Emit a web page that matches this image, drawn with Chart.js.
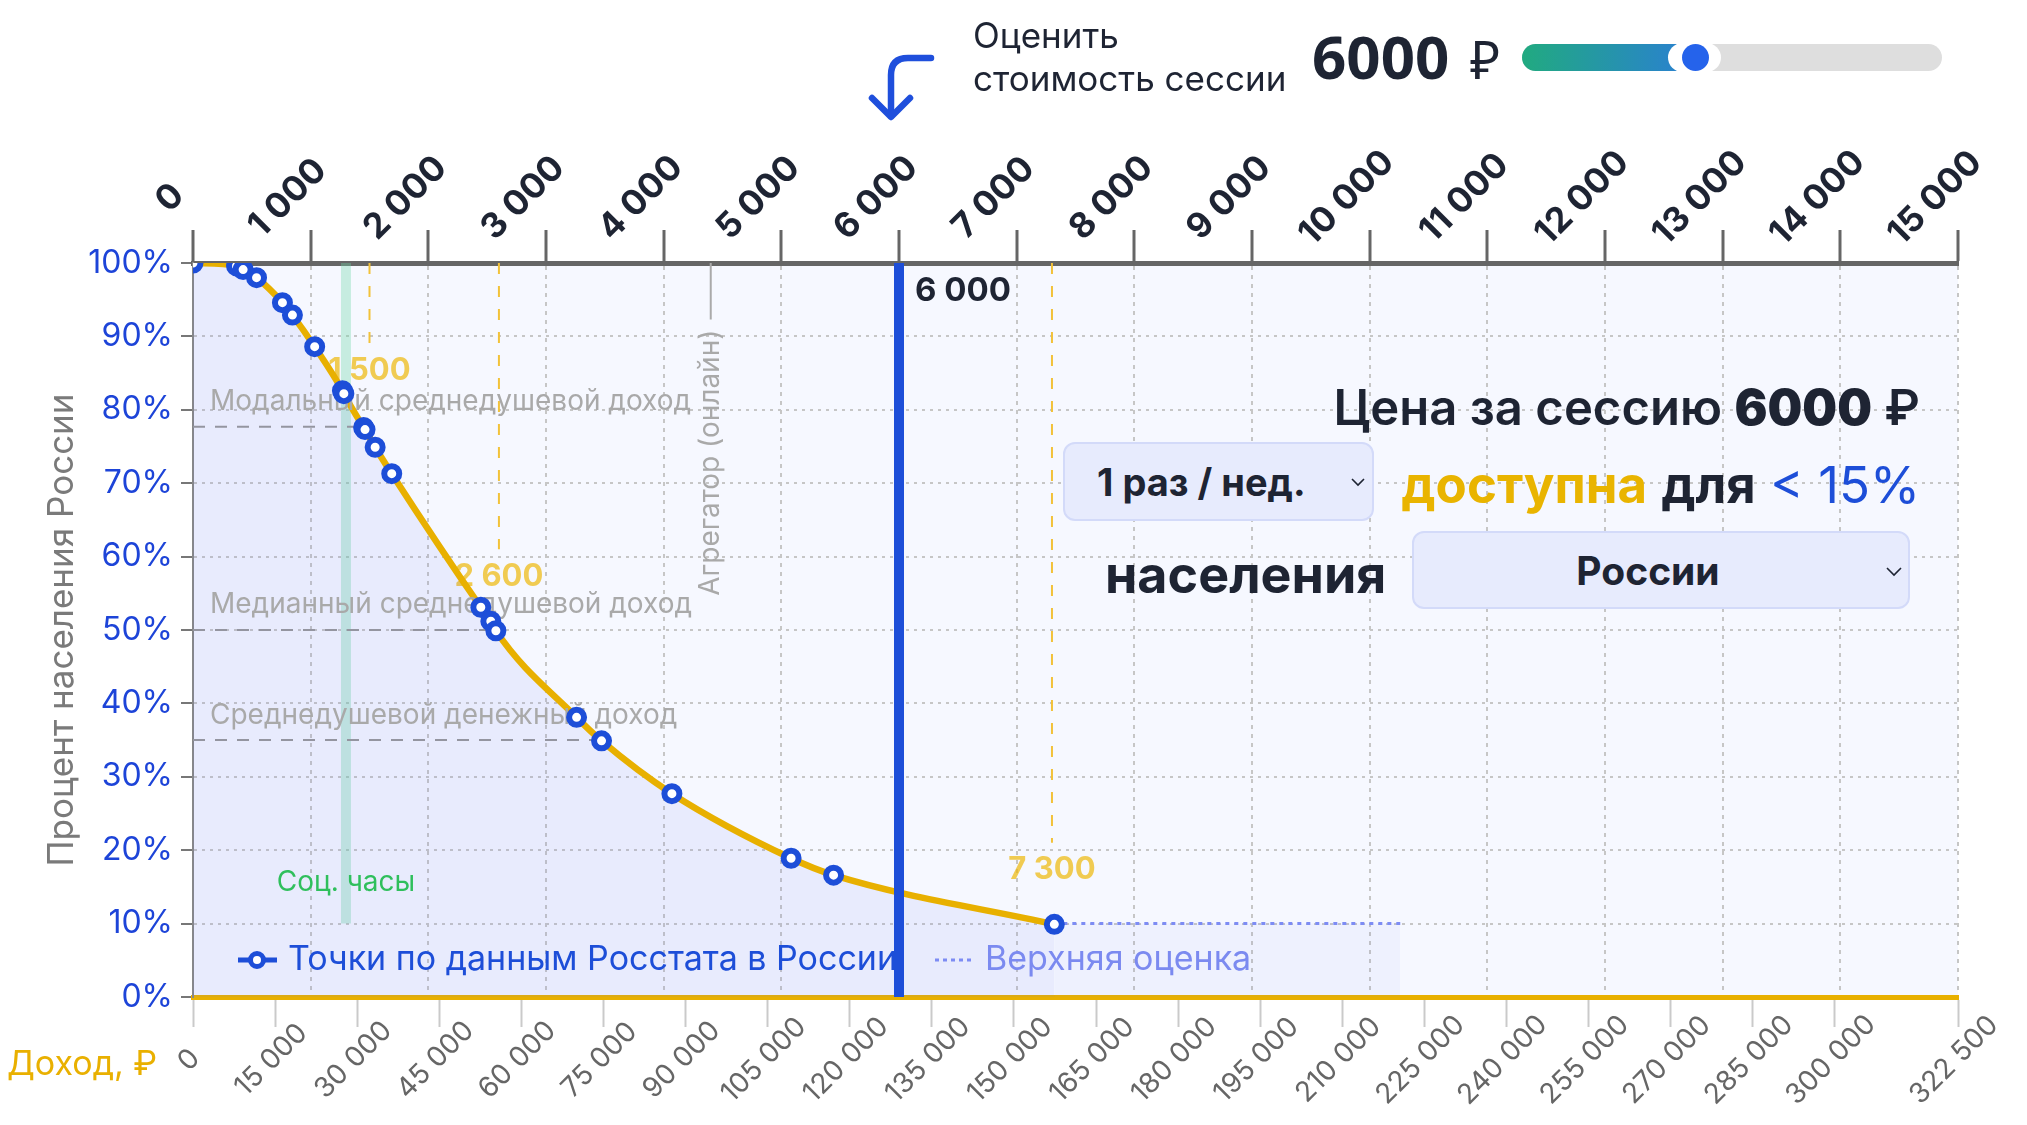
<!DOCTYPE html>
<html lang="ru">
<head>
<meta charset="utf-8">
<title>Доступность сессии</title>
<script src="https://cdn.jsdelivr.net/npm/chart.js@4.4.1/dist/chart.umd.min.js"></script>
<style>
    body { margin: 0; background: #fff; font-family: Inter, "Noto Sans", sans-serif; color: #1e2433; }
    #wrap { position: relative; width: 2027px; height: 1125px; overflow: hidden; }
    #chart { position: absolute; left: 0; top: 0; }
    .abs { position: absolute; white-space: nowrap; line-height: 1; }
    .box { position: absolute; box-sizing: border-box; background: #e7ebfd; border: 2px solid #d3daf9;
           border-radius: 12px; display: flex; align-items: center; font-weight: 700; }
    .box svg { position: absolute; }
</style>
</head>
<body>
<div id="wrap">
    <canvas id="chart" width="2027" height="1125"></canvas>

    <!-- header: arrow, caption, price, slider -->
    <svg class="abs" style="left:0;top:0" width="1000" height="140">
        <path d="M931 58 H908 Q891 58 891 75 V116" fill="none" stroke="#1f4fdc" stroke-width="6.5" stroke-linecap="round"/>
        <path d="M872 98 L891 117 L910 98" fill="none" stroke="#1f4fdc" stroke-width="6.5" stroke-linecap="round" stroke-linejoin="round"/>
    </svg>
    <div class="abs" style="left:973px;top:14px;font-size:35px;line-height:43px">Оценить<br>стоимость сессии</div>
    <div class="abs" style="left:1312px;top:26px;font-size:60px;font-weight:700;font-family:'Noto Sans',sans-serif">6000</div>
    <div class="abs" style="left:1470px;top:33px;font-size:52px;font-family:'Noto Sans',sans-serif">₽</div>
    <div class="abs" style="left:1522px;top:44px;width:420px;height:27px;border-radius:14px;background:#dedede"></div>
    <div class="abs" style="left:1522px;top:44px;width:170px;height:27px;border-radius:14px 0 0 14px;background:linear-gradient(90deg,#21aa80,#2a80d2)"></div>
    <div class="abs" style="left:1668px;top:43px;width:53px;height:29px;border-radius:15px;background:#fff"></div>
    <div class="abs" style="left:1682px;top:44px;width:27px;height:27px;border-radius:50%;background:#2563eb"></div>

    <!-- right panel -->
    <div class="abs" style="right:107px;top:383px;font-size:49px;font-weight:600">Цена за сессию <b>6000</b> ₽</div>
    <div class="box" style="left:1063px;top:442px;width:311px;height:79px;padding-left:32px;font-size:38px">1 раз / нед.
        <svg style="left:286px;top:34px" width="14" height="9"><path d="M1 1 L7 7 L13 1" fill="none" stroke="#1e2433" stroke-width="1.6"/></svg>
    </div>
    <div class="abs" style="right:107px;top:459px;font-size:51px"><b style="color:#e9b400">доступна</b> <b>для</b> <span style="color:#1d4ed8">&lt; 15%</span></div>
    <div class="abs" style="left:1105px;top:549px;font-size:52px;font-weight:700">населения</div>
    <div class="box" style="left:1412px;top:531px;width:498px;height:78px;justify-content:center;padding-right:26px;font-size:39px">России
        <svg style="left:472px;top:34px" width="16" height="10"><path d="M1 1 L8 8 L15 1" fill="none" stroke="#1e2433" stroke-width="1.6"/></svg>
    </div>

    <div class="abs" style="left:7px;top:1046px;font-size:34px;color:#e9b000">Доход, ₽</div>
</div>

<script>
// top axis: price of one session, bottom axis: monthly income per person
const priceTicks = [0, 1000, 2000, 3000, 4000, 5000, 6000, 7000, 8000, 9000, 10000, 11000, 12000, 13000, 14000, 15000];
const incomeTicks = [0, 15000, 30000, 45000, 60000, 75000, 90000, 105000, 120000, 135000, 150000, 165000, 180000,
    195000, 210000, 225000, 240000, 255000, 270000, 285000, 300000, 322500];
const shareTicks = [0, 10, 20, 30, 40, 50, 60, 70, 80, 90, 100];

// Rosstat points (session price, % of population)
const rosstatPrice = [0, 370, 426, 540, 760, 845, 1034, 1270, 1282, 1450, 1462, 1548, 1689,
    2446, 2531, 2574, 3260, 3472, 4070, 5083, 5444, 7320];
const rosstatShare = [100, 99.6, 99.1, 98.0, 94.6, 92.9, 88.6, 82.6, 82.2, 77.6, 77.3, 74.9, 71.3,
    53.1, 51.2, 49.9, 38.1, 34.9, 27.7, 18.9, 16.6, 9.9];

// upper estimate tail
const upperPrice = [7320, 10260];
const upperShare = [10, 10];

// reference incomes
const incomeLevels = ['Модальный среднедушевой доход', 'Медианный среднедушевой доход', 'Среднедушевой денежный доход'];
const incomeLevelShare = [77.7, 50, 35];
const incomeLevelPrice = [1461, 2574, 3480];

// price thresholds (yellow)
const thresholdPrice = [1500, 2600, 7300];
const thresholdShare = [89, 61, 21];

const socialPrice = 1300;
const socialShare = [10, 100];
const aggregatorPrice = 4400;
const aggregatorShare = [92.3, 100];
const sessionPrice = 6000;

const navy = '#1e2433';
const blue = '#1d4ed8';
const gold = '#e8b000';

function fmt(v) {
    return String(v).replace(/\B(?=(\d{3})+(?!\d))/g, ' ');
}

function pts(xs, ys) {
    return xs.map((x, i) => ({ x: x, y: ys[i] }));
}

function vline(x, ys) {
    return ys.map(y => ({ x: x, y: y }));
}

// force the box size and put rotated tick labels centred at a point next to the tick
function axisFit(prop, size, dx, dy) {
    return function (scale) {
        scale[prop] = size;
        scale.paddingLeft = scale.paddingRight = scale.paddingTop = scale.paddingBottom = 0;
        if (dy === undefined) return;
        const base = Object.getPrototypeOf(scale)._computeLabelItems;
        if (!base) return;
        scale._computeLabelItems = function (area) {
            const items = base.call(this, area);
            const edge = this.position === 'top' ? this.bottom : this.top;
            items.forEach(item => {
                item.options.translation = [item.options.translation[0] + dx, edge + dy];
                item.options.textAlign = 'center';
                item.options.textBaseline = 'middle';
                item.textOffset = 0;
            });
            return items;
        };
    };
}

const datasets = [];

incomeLevels.forEach((name, i) => {
    datasets.push({
        id: 'level', data: pts([0, incomeLevelPrice[i]], [incomeLevelShare[i], incomeLevelShare[i]]),
        borderColor: '#999', borderWidth: 2, borderDash: [12, 10], order: 6
    });
});
thresholdPrice.forEach((p, i) => {
    datasets.push({
        id: 'threshold', data: vline(p, [100, thresholdShare[i]]),
        borderColor: '#f2c23a', borderWidth: 2, borderDash: [11, 12], order: 6
    });
});
datasets.push({
    id: 'social', data: vline(socialPrice, socialShare),
    borderColor: 'rgba(110, 215, 165, 0.35)', borderWidth: 10, borderCapStyle: 'butt', order: 6
});
datasets.push({
    id: 'aggregator', data: vline(aggregatorPrice, aggregatorShare),
    borderColor: '#aaa', borderWidth: 2, order: 6
});
datasets.push({
    id: 'curve', data: pts(rosstatPrice, rosstatShare),
    borderColor: gold, borderWidth: 6.5, cubicInterpolationMode: 'monotone',
    fill: 'origin', backgroundColor: 'rgba(100, 115, 235, 0.09)', order: 5
});
datasets.push({
    id: 'upper', label: 'Верхняя оценка', data: pts(upperPrice, upperShare),
    borderColor: '#7d8cf4', borderWidth: 3, borderDash: [4, 5],
    fill: 'origin', backgroundColor: 'rgba(100, 115, 235, 0.05)', order: 5
});
datasets.push({
    id: 'points', label: 'Точки по данным Росстата в России', data: pts(rosstatPrice, rosstatShare),
    showLine: false, pointRadius: 7.5, pointBorderWidth: 6,
    pointBorderColor: blue, pointBackgroundColor: '#fff', order: 2
});
datasets.push({
    id: 'session', data: vline(sessionPrice, [0, 100]),
    borderColor: blue, borderWidth: 10, borderCapStyle: 'butt', order: 1
});
datasets.forEach(d => {
    d.xAxisID = 'x2';
    d.yAxisID = 'y';
    if (d.pointRadius === undefined) d.pointRadius = 0;
});

function text(ctx, str, x, y, font, color, align) {
    ctx.font = font;
    ctx.fillStyle = color;
    ctx.textAlign = align || 'left';
    ctx.textBaseline = 'middle';
    ctx.fillText(str, x, y);
}

const notes = {
    id: 'notes',
    beforeDraw(chart) {
        const a = chart.chartArea;
        const ctx = chart.ctx;
        ctx.save();
        ctx.fillStyle = '#f6f8ff';
        ctx.fillRect(a.left, a.top, a.right - a.left, a.bottom - a.top);
        ctx.restore();
    },
    beforeDatasetsDraw(chart) {
        const ctx = chart.ctx, px = chart.scales.x2, py = chart.scales.y;
        ctx.save();
        thresholdPrice.forEach((p, i) => {
            text(ctx, fmt(p), px.getPixelForValue(p), py.getPixelForValue(thresholdShare[i]) + 27,
                'bold 31px Inter', 'rgba(238, 182, 0, 0.68)', 'center');
        });
        ctx.restore();
    },
    beforeDatasetDraw(chart, args) {
        const ctx = chart.ctx, px = chart.scales.x2, py = chart.scales.y;
        const id = chart.data.datasets[args.index].id;
        ctx.save();
        if (id === 'points') {
            incomeLevels.forEach((name, i) => {
                text(ctx, name, px.getPixelForValue(0) + 17, py.getPixelForValue(incomeLevelShare[i]) - 25,
                    '28px Inter', '#a9a9a9');
            });
            text(ctx, 'Соц. часы', px.getPixelForValue(socialPrice), py.getPixelForValue(15.6),
                '28px Inter', '#2fbf5c', 'center');
            ctx.translate(px.getPixelForValue(aggregatorPrice), py.getPixelForValue(72.8));
            ctx.rotate(-Math.PI / 2);
            text(ctx, 'Агрегатор (онлайн)', 0, 0, '28px Inter', '#a9a9a9', 'center');
        }
        if (id === 'session') {
            // legend inside the plot
            const y = py.getPixelForValue(0) - 37;
            const pointsSet = chart.data.datasets.find(d => d.id === 'points');
            const upperSet = chart.data.datasets.find(d => d.id === 'upper');
            ctx.strokeStyle = blue;
            ctx.lineWidth = 5;
            ctx.beginPath();
            ctx.moveTo(238, y);
            ctx.lineTo(277, y);
            ctx.stroke();
            ctx.beginPath();
            ctx.arc(257, y, 6.5, 0, Math.PI * 2);
            ctx.fillStyle = '#fff';
            ctx.fill();
            ctx.stroke();
            text(ctx, pointsSet.label, 288, y, '34px Inter', blue);
            ctx.strokeStyle = upperSet.borderColor;
            ctx.lineWidth = 3;
            ctx.setLineDash([4, 4]);
            ctx.beginPath();
            ctx.moveTo(935, y);
            ctx.lineTo(973, y);
            ctx.stroke();
            ctx.setLineDash([]);
            text(ctx, upperSet.label, 985, y, '34px Inter', '#7b8af0');
            text(ctx, fmt(sessionPrice), px.getPixelForValue(sessionPrice) + 16, py.getPixelForValue(96.2),
                'bold 33px Inter', navy);
        }
        ctx.restore();
    }
};

Chart.defaults.font.family = 'Inter, "Noto Sans", sans-serif';

new Chart(document.getElementById('chart'), {
    type: 'line',
    data: { datasets: datasets },
    plugins: [notes],
    options: {
        responsive: false,
        devicePixelRatio: 1,
        animation: false,
        events: [],
        layout: { padding: { right: 69 } },
        plugins: {
            legend: { display: false },
            tooltip: { enabled: false }
        },
        scales: {
            x: {
                type: 'linear',
                position: 'bottom',
                min: 0,
                max: 322500,
                afterBuildTicks: s => { s.ticks = incomeTicks.map(v => ({ value: v })); },
                afterFit: axisFit('height', 128, 8, 63),
                grid: { drawOnChartArea: false, tickLength: 30, tickColor: '#cacaca', tickWidth: 2 },
                border: { color: gold, width: 5 },
                ticks: {
                    autoSkip: false, minRotation: 45, maxRotation: 45,
                    color: '#666', font: { size: 28 },
                    callback: v => fmt(v)
                }
            },
            x2: {
                type: 'linear',
                position: 'top',
                min: 0,
                max: 15000,
                afterBuildTicks: s => { s.ticks = priceTicks.map(v => ({ value: v })); },
                afterFit: axisFit('height', 263, -8, -65),
                grid: { color: '#c6c6c6', lineWidth: 2, tickLength: 33, tickColor: '#666', tickWidth: 3 },
                border: { color: '#666', width: 5, dash: [4, 5] },
                ticks: {
                    autoSkip: false, minRotation: 45, maxRotation: 45,
                    color: navy, font: { size: 35, weight: 'bold' },
                    callback: v => fmt(v)
                }
            },
            y: {
                type: 'linear',
                position: 'left',
                min: 0,
                max: 100,
                afterBuildTicks: s => { s.ticks = shareTicks.map(v => ({ value: v })); },
                afterFit: axisFit('width', 193),
                grid: { color: '#c6c6c6', lineWidth: 2, tickLength: 12, tickColor: '#777', tickWidth: 2 },
                border: { color: '#888', width: 2, dash: [3, 5] },
                ticks: { color: '#1d44d8', font: { size: 32 }, padding: 8, callback: v => v + '%' },
                title: {
                    display: true, text: 'Процент населения России', color: '#7a7a7a',
                    font: { size: 35 }, padding: { top: 41, bottom: 0 }
                }
            }
        }
    }
});
</script>
</body>
</html>
